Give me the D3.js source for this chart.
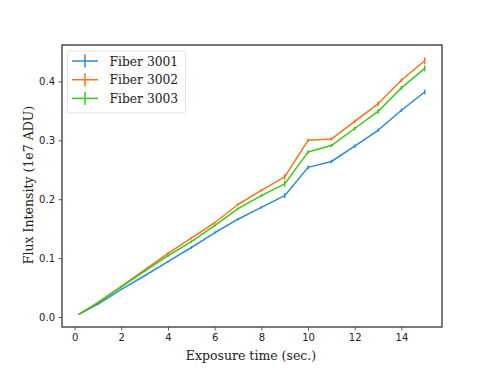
<!DOCTYPE html>
<html>
<head>
<meta charset="utf-8">
<script src="https://cdn.jsdelivr.net/npm/d3@7"></script>
<style>
  body { margin: 0; background: #fff; }
  svg { display: block; }
</style>
</head>
<body>
<svg width="491" height="368"></svg>
<script>
var width = 491,
    height = 368;

// exposure times (sec.)
var exposure = [0.2, 1, 2, 3, 4, 5, 6, 7, 8, 9, 10, 11, 12, 13, 14, 15];

// flux (1e7 ADU) per fiber
var fiber3001 = [0.005, 0.022, 0.047, 0.070, 0.094, 0.118, 0.143, 0.166, 0.186, 0.206, 0.254, 0.264, 0.290, 0.317, 0.351, 0.382];
var fiber3002 = [0.005, 0.025, 0.052, 0.080, 0.108, 0.134, 0.160, 0.191, 0.215, 0.238, 0.300, 0.302, 0.332, 0.362, 0.402, 0.435];
var fiber3003 = [0.005, 0.024, 0.051, 0.078, 0.104, 0.128, 0.155, 0.184, 0.206, 0.226, 0.280, 0.291, 0.320, 0.349, 0.389, 0.422];

// error bars
var err3001 = [0.001, 0.001, 0.001, 0.001, 0.002, 0.002, 0.002, 0.002, 0.002, 0.004, 0.003, 0.003, 0.003, 0.003, 0.003, 0.004];
var err3002 = [0.001, 0.001, 0.001, 0.001, 0.002, 0.002, 0.002, 0.002, 0.002, 0.005, 0.003, 0.003, 0.003, 0.004, 0.003, 0.006];
var err3003 = [0.001, 0.001, 0.001, 0.001, 0.002, 0.002, 0.002, 0.002, 0.002, 0.005, 0.003, 0.003, 0.003, 0.004, 0.003, 0.005];

var seriesNames = ["Fiber 3001", "Fiber 3002", "Fiber 3003"];
var seriesColors = ["#2e8ad8", "#ff7214", "#38c81c"];

var xTicks = [0, 2, 4, 6, 8, 10, 12, 14];
var yTicks = [0.0, 0.1, 0.2, 0.3, 0.4];

var series = [
    { name: seriesNames[0], color: seriesColors[0], y: fiber3001, e: err3001 },
    { name: seriesNames[1], color: seriesColors[1], y: fiber3002, e: err3002 },
    { name: seriesNames[2], color: seriesColors[2], y: fiber3003, e: err3003 }
];

var plot = { left: 62, right: 442, top: 45, bottom: 327 };

var x = d3.scaleLinear().domain([-0.54, 15.74]).range([plot.left, plot.right]);
var y = d3.scaleLinear().domain([-0.017, 0.4618]).range([plot.bottom, plot.top]);

var svg = d3.select("svg");

// axes
var xAxis = d3.axisBottom(x).tickValues(xTicks).tickSize(3.5).tickPadding(3.5)
    .tickFormat(d3.format("d"));
var yAxis = d3.axisLeft(y).tickValues(yTicks).tickSize(3.5).tickPadding(3.5)
    .tickFormat(d3.format(".1f"));

var gx = svg.append("g").attr("transform", "translate(0," + plot.bottom + ")").call(xAxis);
var gy = svg.append("g").attr("transform", "translate(" + plot.left + ",0)").call(yAxis);

[gx, gy].forEach(function (g) {
    g.select(".domain").remove();
    g.selectAll(".tick line").attr("stroke", "#333").attr("stroke-width", 0.8);
    g.selectAll(".tick text")
        .attr("fill", "#222")
        .style("font-family", "DejaVu Sans")
        .style("font-size", "10px");
});

// lines
var line = d3.line()
    .x(function (d, i) { return x(exposure[i]); })
    .y(function (d) { return y(d); });

series.forEach(function (s) {
    svg.append("path")
        .datum(s.y)
        .attr("fill", "none")
        .attr("stroke", s.color)
        .attr("stroke-width", 1.5)
        .attr("stroke-linejoin", "round")
        .attr("d", line);

    svg.append("g")
        .selectAll("line")
        .data(s.y)
        .join("line")
        .attr("x1", function (d, i) { return x(exposure[i]); })
        .attr("x2", function (d, i) { return x(exposure[i]); })
        .attr("y1", function (d, i) { return y(d - s.e[i]); })
        .attr("y2", function (d, i) { return y(d + s.e[i]); })
        .attr("stroke", s.color)
        .attr("stroke-width", 1.5);
});

// frame
svg.append("rect")
    .attr("x", plot.left)
    .attr("y", plot.top)
    .attr("width", plot.right - plot.left)
    .attr("height", plot.bottom - plot.top)
    .attr("fill", "none")
    .attr("stroke", "#444")
    .attr("stroke-width", 1.4);

// axis labels
svg.append("text")
    .attr("x", 251)
    .attr("y", 359.5)
    .attr("text-anchor", "middle")
    .style("font-family", "DejaVu Serif")
    .style("font-size", "12.5px")
    .attr("fill", "#222")
    .text("Exposure time (sec.)");

svg.append("text")
    .attr("transform", "translate(33,185) rotate(-90)")
    .attr("text-anchor", "middle")
    .style("font-family", "DejaVu Serif")
    .style("font-size", "12.5px")
    .attr("fill", "#222")
    .text("Flux Intensity (1e7 ADU)");

// legend
var legend = svg.append("g");
legend.append("rect")
    .attr("x", 67.5)
    .attr("y", 51)
    .attr("width", 118)
    .attr("height", 62)
    .attr("rx", 2.5)
    .attr("fill", "#fff")
    .attr("fill-opacity", 0.8)
    .attr("stroke", "#ddd")
    .attr("stroke-width", 0.8);

var rows = legend.selectAll("g.row")
    .data(series)
    .join("g")
    .attr("class", "row")
    .attr("transform", function (d, i) { return "translate(0," + (61 + i * 18.7) + ")"; });

rows.append("line")
    .attr("x1", 72).attr("x2", 98).attr("y1", 0).attr("y2", 0)
    .attr("stroke", function (d) { return d.color; })
    .attr("stroke-width", 1.5);
rows.append("line")
    .attr("x1", 85).attr("x2", 85).attr("y1", -6.5).attr("y2", 6.5)
    .attr("stroke", function (d) { return d.color; })
    .attr("stroke-width", 1.5);
rows.append("text")
    .attr("x", 109.5)
    .attr("y", 4.5)
    .style("font-family", "DejaVu Serif")
    .style("font-size", "12.3px")
    .attr("fill", "#222")
    .text(function (d) { return d.name; });
</script>
</body>
</html>
